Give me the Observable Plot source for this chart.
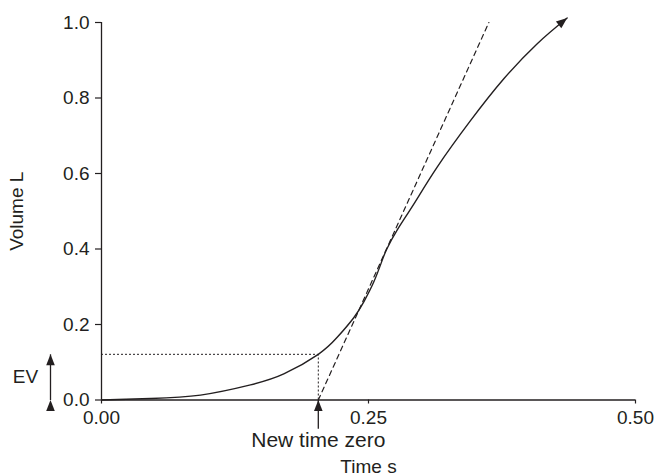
<!DOCTYPE html>
<html><head><meta charset="utf-8">
<script src="https://cdn.jsdelivr.net/npm/d3@7"></script>
<script src="https://cdn.jsdelivr.net/npm/@observablehq/plot@0.6"></script>
<style>
body{margin:0;background:#fff;}
svg{overflow:visible;}
</style>
</head><body><div id="chart"></div>
<script>
// Volume–time curve
const curveTime   = [0, 0.046, 0.0927, 0.1395, 0.1707, 0.203, 0.2207, 0.2362, 0.2456, 0.255, 0.2628, 0.2675, 0.2768, 0.2924, 0.3143, 0.3455, 0.3767, 0.408, 0.436];
const curveVolume = [0, 0.004, 0.013, 0.040, 0.069, 0.121, 0.166, 0.218, 0.260, 0.313, 0.370, 0.402, 0.450, 0.519, 0.617, 0.740, 0.851, 0.944, 1.012];
// Back-extrapolation tangent
const tangentTime   = [0.203, 0.3627];
const tangentVolume = [0, 1.0];
// Annotations
const newTimeZero = 0.203;
const extrapolatedVolume = 0.121;
const xTicks = [0, 0.25, 0.5];
const yTicks = [0, 0.2, 0.4, 0.6, 0.8, 1.0];
const labels = {x: "Time s", y: "Volume L", ev: "EV", zero: "New time zero"};
const pointerFoot = -0.076; // lower end of the "new time zero" pointer, in volume units

const curve = curveTime.map((t, i) => ({t, v: curveVolume[i]}));
const tangent = tangentTime.map((t, i) => ({t, v: tangentVolume[i]}));
const ink = "#231f20";
const fs = 19;

const chart = Plot.plot({
  width: 658, height: 476,
  marginLeft: 101, marginRight: 23, marginTop: 22, marginBottom: 76.5,
  style: {fontFamily: "'Liberation Sans', Arial, sans-serif", fontSize: fs + "px", color: ink, background: "white", overflow: "visible"},
  x: {domain: [0, 0.5]},
  y: {domain: [0, 1]},
  marks: [
    Plot.axisX({ticks: xTicks, tickFormat: d3.format(".2f"), tickSize: 4, tickPadding: 6, label: null, strokeWidth: 1.2, fontSize: fs}),
    Plot.axisY({ticks: yTicks, tickFormat: d3.format(".1f"), tickSize: 6, tickPadding: 6, label: null, strokeWidth: 1.2, fontSize: fs}),
    Plot.ruleY([0], {stroke: ink, strokeWidth: 1.3}),
    Plot.ruleX([0], {stroke: ink, strokeWidth: 1.3}),
    Plot.ruleY([extrapolatedVolume], {x1: 0, x2: newTimeZero, stroke: ink, strokeWidth: 1, strokeDasharray: "2,2"}),
    Plot.ruleX([newTimeZero], {y1: 0, y2: extrapolatedVolume, stroke: ink, strokeWidth: 1, strokeDasharray: "2,2"}),
    Plot.line(tangent, {x: "t", y: "v", stroke: ink, strokeWidth: 1.2, strokeDasharray: "5,4"}),
    Plot.line(curve, {x: "t", y: "v", curve: "natural", stroke: ink, strokeWidth: 1.4, markerEnd: "arrow"}),
    Plot.link([extrapolatedVolume], {x1: 0, x2: 0, y1: 0, y2: d => d, dx: -51, stroke: ink, strokeWidth: 1.3, markerStart: "arrow", markerEnd: "arrow"}),
    Plot.link([newTimeZero], {x1: d => d, x2: d => d, y1: pointerFoot, y2: 0, stroke: ink, strokeWidth: 1.3, markerEnd: "arrow"}),
    Plot.text([labels.ev], {x: 0, y: extrapolatedVolume / 2, dx: -76, text: d => d, fill: ink, fontSize: fs}),
    Plot.text([labels.zero], {x: newTimeZero, y: 0, dy: 40, text: d => d, fill: ink, fontSize: fs + 2}),
    Plot.text([labels.x], {x: 0.25, y: 0, dy: 67, text: d => d, fill: ink, fontSize: fs}),
    Plot.text([labels.y], {x: 0, y: 0.5, dx: -85, rotate: -90, text: d => d, fill: ink, fontSize: fs})
  ]
});

// Filled triangular arrowheads
chart.querySelectorAll("marker").forEach(m => {
  m.setAttribute("viewBox", "-11 -5 11 10");
  m.setAttribute("markerUnits", "userSpaceOnUse");
  m.setAttribute("markerWidth", 11);
  m.setAttribute("markerHeight", 10);
  m.setAttribute("fill", ink);
  m.setAttribute("stroke", "none");
  m.setAttribute("overflow", "visible");
  m.innerHTML = "";
  const p = document.createElementNS("http://www.w3.org/2000/svg", "path");
  p.setAttribute("d", "M-11,-4.3L0,0L-11,4.3Z");
  m.appendChild(p);
});

document.getElementById("chart").appendChild(chart);
</script>
</body></html>
